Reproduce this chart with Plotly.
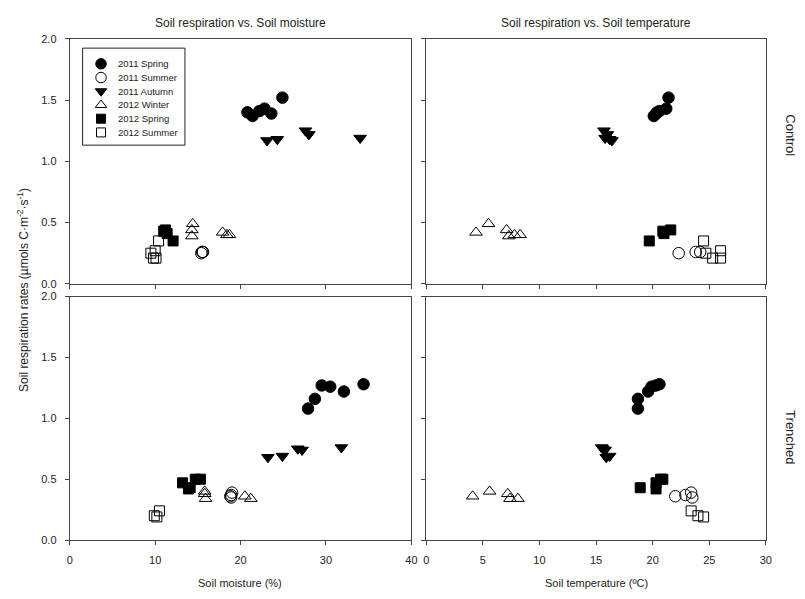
import plotly.graph_objects as go

W, H = 805, 599
FONT = "Liberation Sans, Arial, sans-serif"

seasons = ["2011 Spring", "2011 Summer", "2011 Autumn", "2012 Winter", "2012 Spring", "2012 Summer"]
symbols = ["circle", "circle-open", "triangle-down", "triangle-up-open", "square", "square-open"]

# ---- Control plots ----
ctrl_sp11_resp = [1.52, 1.40, 1.37, 1.41, 1.43, 1.39]
ctrl_sp11_moist = [24.9, 20.8, 21.4, 22.2, 22.8, 23.6]
ctrl_sp11_temp = [21.4, 20.4, 20.1, 20.6, 21.2, 20.3]

ctrl_su11_resp = [0.25, 0.26, 0.26]
ctrl_su11_moist = [15.4, 15.5, 15.6]
ctrl_su11_temp = [22.3, 23.8, 24.2]

ctrl_au11_resp = [1.17, 1.18, 1.25, 1.22, 1.19]
ctrl_au11_moist = [23.1, 24.3, 27.6, 28.0, 34.0]
ctrl_au11_temp = [16.4, 16.2, 15.7, 16.0, 15.8]

ctrl_wi12_resp = [0.49, 0.44, 0.39, 0.42, 0.40, 0.40]
ctrl_wi12_moist = [14.4, 14.3, 14.3, 17.9, 18.4, 18.7]
ctrl_wi12_temp = [5.5, 7.1, 7.3, 4.4, 7.8, 8.3]

ctrl_sp12_resp = [0.43, 0.44, 0.41, 0.35]
ctrl_sp12_moist = [11.0, 11.2, 11.4, 12.1]
ctrl_sp12_temp = [20.9, 21.6, 21.0, 19.7]

ctrl_su12_resp = [0.35, 0.25, 0.21, 0.21, 0.27]
ctrl_su12_moist = [10.4, 9.5, 10.1, 9.8, 10.0]
ctrl_su12_temp = [24.5, 24.7, 25.3, 26.0, 26.0]

# ---- Trenched plots ----
tr_sp11_resp = [1.08, 1.16, 1.27, 1.26, 1.22, 1.28]
tr_sp11_moist = [27.9, 28.7, 29.5, 30.5, 32.1, 34.4]
tr_sp11_temp = [18.7, 18.7, 20.3, 19.9, 19.6, 20.6]

tr_su11_resp = [0.36, 0.37, 0.39, 0.35]
tr_su11_moist = [18.8, 18.9, 19.0, 18.9]
tr_su11_temp = [22.0, 22.9, 23.4, 23.5]

tr_au11_resp = [0.68, 0.69, 0.75, 0.74, 0.76]
tr_au11_moist = [23.2, 24.9, 26.7, 27.2, 31.8]
tr_au11_temp = [15.9, 16.2, 15.6, 15.8, 15.5]

tr_wi12_resp = [0.36, 0.40, 0.38, 0.34, 0.34]
tr_wi12_moist = [20.5, 15.8, 15.8, 21.2, 15.9]
tr_wi12_temp = [4.1, 5.6, 7.2, 7.4, 8.1]

tr_sp12_resp = [0.47, 0.43, 0.50, 0.50, 0.42]
tr_sp12_moist = [13.2, 14.1, 14.7, 15.3, 13.9]
tr_sp12_temp = [20.3, 18.9, 20.9, 20.7, 20.3]

tr_su12_resp = [0.20, 0.24, 0.19]
tr_su12_moist = [9.9, 10.5, 10.2]
tr_su12_temp = [24.0, 23.4, 24.5]

ctrl = [
    (ctrl_sp11_moist, ctrl_sp11_temp, ctrl_sp11_resp),
    (ctrl_su11_moist, ctrl_su11_temp, ctrl_su11_resp),
    (ctrl_au11_moist, ctrl_au11_temp, ctrl_au11_resp),
    (ctrl_wi12_moist, ctrl_wi12_temp, ctrl_wi12_resp),
    (ctrl_sp12_moist, ctrl_sp12_temp, ctrl_sp12_resp),
    (ctrl_su12_moist, ctrl_su12_temp, ctrl_su12_resp),
]
trench = [
    (tr_sp11_moist, tr_sp11_temp, tr_sp11_resp),
    (tr_su11_moist, tr_su11_temp, tr_su11_resp),
    (tr_au11_moist, tr_au11_temp, tr_au11_resp),
    (tr_wi12_moist, tr_wi12_temp, tr_wi12_resp),
    (tr_sp12_moist, tr_sp12_temp, tr_sp12_resp),
    (tr_su12_moist, tr_su12_temp, tr_su12_resp),
]

fig = go.Figure()

def msize(sym):
    if "circle" in sym:
        return 11.5
    if "square" in sym:
        return 10
    return 11

def add(group, which, xa, ya):
    for i, (moist, temp, resp) in enumerate(group):
        xs = moist if which == "m" else temp
        sym = symbols[i]
        fig.add_trace(go.Scatter(
            x=xs, y=resp, mode="markers", name=seasons[i],
            showlegend=False, xaxis=xa, yaxis=ya,
            marker=dict(symbol=sym, size=msize(sym),
                        color="black", line=dict(color="black", width=1)),
        ))

add(ctrl, "m", "x", "y")
add(ctrl, "t", "x2", "y2")
add(trench, "m", "x3", "y3")
add(trench, "t", "x4", "y4")

# ---- compact legend box drawn on its own small axis (rows = season index) ----
LEG_L, LEG_R, LEG_T, LEG_B = 80.5, 184, 43, 142
for i, s in enumerate(seasons):
    sym = symbols[i]
    fig.add_trace(go.Scatter(
        x=[0.18], y=[i], mode="markers", showlegend=False, hoverinfo="skip",
        xaxis="x5", yaxis="y5",
        marker=dict(symbol=sym, size=msize(sym) - 1, color="black",
                    line=dict(color="black", width=1)),
    ))
    fig.add_annotation(text=s, x=0.33, y=i, xref="x5", yref="y5", xanchor="left",
                       yanchor="middle", showarrow=False,
                       font=dict(family=FONT, size=9.5, color="#222222"))

LX = [67.5 / W, 413 / W]
RX = [428 / W, 771.5 / W]
TY = [1 - 283.5 / H, 1 - 33.5 / H]
BY = [1 - 545 / H, 1 - 296.5 / H]

axcol = "#444444"
common = dict(showgrid=False, zeroline=False, showline=True, linecolor=axcol, linewidth=1,
              mirror=True, ticks="outside", ticklen=4, tickcolor=axcol, ticklabelstandoff=6,
              tickfont=dict(family=FONT, size=11, color="#222222"))

def xax(domain, rng, dtick, anchor, labels):
    return dict(domain=domain, range=rng, dtick=dtick, tick0=0, anchor=anchor,
                showticklabels=labels, **common)

def yax(domain, anchor, labels):
    return dict(domain=domain, range=[0, 2], dtick=0.5, tick0=0, anchor=anchor,
                tickformat=".1f", showticklabels=labels, **common)

row_px = 14.0
fig.update_layout(
    width=W, height=H,
    margin=dict(l=0, r=0, t=0, b=0),
    paper_bgcolor="white", plot_bgcolor="white",
    font=dict(family=FONT, color="#222222"),
    showlegend=False,
    xaxis=xax(LX, [0, 40], 10, "y", False),
    yaxis=yax(TY, "x", True),
    xaxis2=xax(RX, [0, 30], 5, "y2", False),
    yaxis2=yax(TY, "x2", False),
    xaxis3=xax(LX, [0, 40], 10, "y3", True),
    yaxis3=yax(BY, "x3", True),
    xaxis4=xax(RX, [0, 30], 5, "y4", True),
    yaxis4=yax(BY, "x4", False),
    xaxis5=dict(domain=[LEG_L / W, LEG_R / W], range=[0, 1], anchor="y5", visible=False,
                fixedrange=True),
    yaxis5=dict(domain=[1 - LEG_B / H, 1 - LEG_T / H],
                range=[5 + 13 / row_px, -16 / row_px], anchor="x5", visible=False,
                fixedrange=True),
)

fig.add_shape(type="rect", xref="paper", yref="paper",
              x0=LEG_L / W, x1=LEG_R / W, y0=1 - LEG_B / H, y1=1 - LEG_T / H,
              line=dict(color="#222222", width=1), fillcolor="rgba(0,0,0,0)", layer="above")

ann = [
    dict(text="Soil respiration vs. Soil moisture", x=240 / W, y=1 - 17 / H, size=12, angle=0),
    dict(text="Soil respiration vs. Soil temperature", x=600 / W, y=1 - 17 / H, size=12, angle=0),
    dict(text="Soil moisture (%)", x=240 / W, y=1 - 589 / H, size=11, angle=0),
    dict(text="Soil temperature (ºC)", x=600 / W, y=1 - 589 / H, size=11, angle=0),
    dict(text="Soil respiration rates (µmols C·m<sup>-2</sup>·s<sup>-1</sup>)", x=20 / W, y=1 - 290 / H, size=12, angle=-90),
    dict(text="Control", x=797 / W, y=1 - 132 / H, size=13, angle=90),
    dict(text="Trenched", x=797 / W, y=1 - 440 / H, size=13, angle=90),
]
for a in ann:
    fig.add_annotation(text=a["text"], x=a["x"], y=a["y"], xref="paper", yref="paper",
                       xanchor="center", yanchor="middle", showarrow=False, textangle=a["angle"],
                       font=dict(family=FONT, size=a["size"], color="#222222"))

fig.write_html("out.html")
